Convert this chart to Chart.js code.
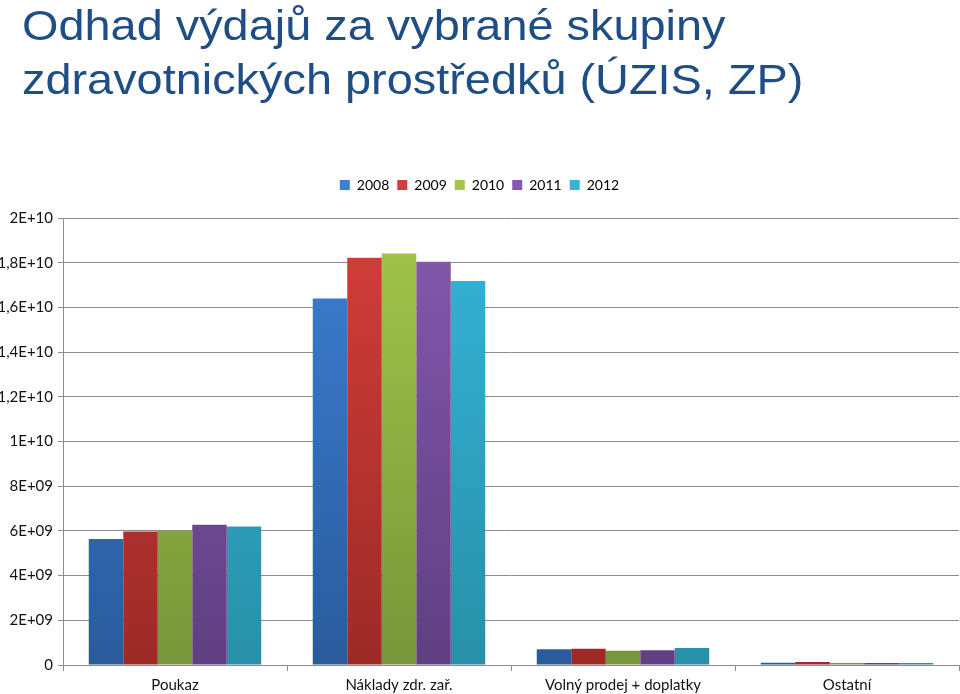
<!DOCTYPE html>
<html>
<head>
<meta charset="utf-8">
<script src="https://cdn.jsdelivr.net/npm/chart.js@4.4.1/dist/chart.umd.min.js"></script>
<style>
  html, body { margin: 0; padding: 0; background: #fff; }
  #wrap { position: relative; width: 960px; height: 694px; }
  #title {
    position: absolute; left: 22px; top: -2px; margin: 0;
    font-family: "Liberation Sans", Arial, sans-serif; font-weight: normal;
    font-size: 43px; line-height: 54px; color: #1f4e87;
    transform: scaleX(1.09); transform-origin: left top; white-space: nowrap;
    z-index: 2;
  }
  canvas { position: absolute; left: 0; top: 0; }
</style>
</head>
<body>
<div id="wrap">
  <h1 id="title">Odhad výdajů za vybrané skupiny<br>zdravotnických prostředků (ÚZIS, ZP)</h1>
  <canvas id="chart" width="960" height="694"></canvas>
</div>
<script>
// categories and yearly values (CZK)
const categories = ['Poukaz', 'Náklady zdr. zař.', 'Volný prodej + doplatky', 'Ostatní'];
const years = ['2008', '2009', '2010', '2011', '2012'];
const v2008 = [5.64e9, 16.40e9, 0.70e9, 0.10e9];
const v2009 = [5.97e9, 18.22e9, 0.73e9, 0.13e9];
const v2010 = [6.01e9, 18.41e9, 0.64e9, 0.09e9];
const v2011 = [6.28e9, 18.04e9, 0.66e9, 0.09e9];
const v2012 = [6.20e9, 17.18e9, 0.76e9, 0.09e9];
const yTickLabels = ['0', '2E+09', '4E+09', '6E+09', '8E+09', '1E+10',
                     '1,2E+10', '1,4E+10', '1,6E+10', '1,8E+10', '2E+10'];

// top / bottom colours of the bar gradient
const colors = [
  ['#3d7fd3', '#2a5b9c'],
  ['#d43e3a', '#9c2a27'],
  ['#a3c64b', '#789539'],
  ['#8559ad', '#5f3f82'],
  ['#36b4d8', '#2890a8']
];
const seriesValues = [v2008, v2009, v2010, v2011, v2012];

function gradient(ctx, idx) {
  const chart = ctx.chart;
  const area = chart.chartArea;
  if (!area) return colors[idx][0];
  const g = chart.ctx.createLinearGradient(0, area.top, 0, area.bottom);
  g.addColorStop(0, colors[idx][0]);
  g.addColorStop(1, colors[idx][1]);
  return g;
}

const datasets = years.map((y, i) => ({
  label: y,
  data: seriesValues[i],
  backgroundColor: ctx => gradient(ctx, i),
  borderWidth: 0,
  categoryPercentage: 0.77,
  barPercentage: 1.0
}));

const font = { family: 'Lato, "Open Sans", sans-serif', size: 15 };

// extra room under the legend, as in the original
const legendGap = {
  id: 'legendGap',
  afterInit(chart) {
    const lg = chart.legend;
    const fit = lg.fit;
    lg.fit = function () { fit.call(this); this.height += 16; };
  }
};

new Chart(document.getElementById('chart'), {
  type: 'bar',
  data: { labels: categories, datasets: datasets },
  plugins: [legendGap],
  options: {
    responsive: false,
    animation: false,
    layout: { padding: { top: 170, right: 1, left: 0, bottom: 0 } },
    plugins: {
      legend: {
        position: 'top',
        labels: {
          color: '#222',
          font: { family: font.family, size: 14 },
          boxWidth: 10,
          boxHeight: 10,
          padding: 8,
          generateLabels: chart => years.map((y, i) => ({
            text: y,
            fillStyle: colors[i][0],
            strokeStyle: colors[i][0],
            lineWidth: 0,
            datasetIndex: i
          }))
        }
      },
      tooltip: { enabled: false }
    },
    scales: {
      x: {
        offset: true,
        grid: { drawOnChartArea: false, drawTicks: true, tickLength: 6, offset: true, color: '#8c8c8c' },
        border: { color: '#8c8c8c' },
        ticks: { color: '#111', font: font, padding: 5 },
        afterFit: s => { s.height = 29; }
      },
      y: {
        min: 0,
        max: 2e10,
        ticks: {
          stepSize: 2e9,
          color: '#111',
          font: { family: font.family, size: 15 },
          padding: 5,
          callback: (v, i) => yTickLabels[i]
        },
        grid: { color: '#8c8c8c', tickLength: 5 },
        border: { color: '#8c8c8c' },
        afterFit: s => { s.width = 63; }
      }
    }
  }
});
</script>
</body>
</html>
